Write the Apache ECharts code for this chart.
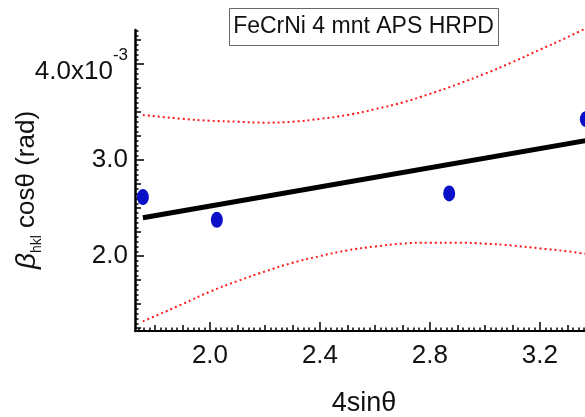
<!DOCTYPE html>
<html>
<head>
<meta charset="utf-8">
<script src="https://cdn.jsdelivr.net/npm/echarts@6/dist/echarts.min.js"></script>
<style>html,body{margin:0;padding:0;background:#fff;}#c{width:585px;height:417px;}</style>
</head>
<body>
<div id="c"></div>
<script>
// Data (y values in units of 1e-3 rad)
const pointsX = [1.756, 2.025, 2.870, 3.367];
const pointsY = [2.615, 2.378, 2.653, 3.427];
const fitX = [1.756, 3.40];
const fitY = [2.40, 3.22];
const bandX = [1.756, 1.9, 2.0, 2.1, 2.2, 2.3, 2.4, 2.5, 2.6, 2.7, 2.8, 2.9, 3.0, 3.1, 3.2, 3.3, 3.4];
const upperY = [3.47, 3.43, 3.41, 3.40, 3.39, 3.40, 3.43, 3.47, 3.53, 3.60, 3.69, 3.79, 3.90, 4.02, 4.15, 4.28, 4.42];
const lowerY = [1.32, 1.50, 1.63, 1.74, 1.84, 1.93, 2.00, 2.06, 2.10, 2.13, 2.14, 2.14, 2.13, 2.11, 2.08, 2.05, 2.01];
const xTickLabels = [2.0, 2.4, 2.8, 3.2];
const yTickLabels = [2.0, 3.0, 4.0];
const titleText = 'FeCrNi 4 mnt APS HRPD';
const xTitle = '4sinθ';

const xMin = 1.7273, xMax = 3.364, yMin = 1.22, yMax = 4.355;
function steps(a, b, s) { const r = []; for (let v = a; v <= b + 1e-9; v += s) r.push(Math.round(v * 1000) / 1000); return r; }
const xMinor = steps(1.74, 3.36, 0.02).filter(v => v >= xMin && v <= xMax);
const xMed = steps(1.8, 3.3, 0.1);
const yMinor = steps(1.25, 4.35, 0.05);
const yMed = steps(1.25, 4.35, 0.25);

const NARROW = '"Liberation Sans Narrow","Arial Narrow","Liberation Sans",sans-serif';
const SANS = '"Liberation Sans",Arial,sans-serif';

function xAx(ticks, len, showLabel) {
  return {
    type: 'value', min: xMin, max: xMax, gridIndex: 0, position: 'bottom',
    axisLine: { show: showLabel, onZero: false, lineStyle: { color: '#000', width: 2 } },
    axisTick: { show: true, inside: true, length: len, customValues: ticks, lineStyle: { color: '#000', width: 1.5 } },
    axisLabel: showLabel ? { show: true, customValues: xTickLabels, margin: 12, fontSize: 26, fontFamily: NARROW, color: '#111', formatter: v => v.toFixed(1) } : { show: false },
    splitLine: { show: false }
  };
}
function yAx(ticks, len, showLabel) {
  return {
    type: 'value', min: yMin, max: yMax, gridIndex: 0, position: 'left',
    axisLine: { show: showLabel, onZero: false, lineStyle: { color: '#000', width: 2.5 } },
    axisTick: { show: true, inside: true, length: len, customValues: ticks, lineStyle: { color: '#000', width: 1.5 } },
    axisLabel: showLabel ? {
      show: true, customValues: yTickLabels, margin: 7, fontSize: 26, fontFamily: NARROW, color: '#111',
      formatter: v => Math.abs(v - 4) < 1e-6 ? '{b|4.0x10}{s|-3}' : '{c|' + v.toFixed(1) + '}',
      rich: {
        b: { fontSize: 26, fontFamily: NARROW, color: '#111', verticalAlign: 'bottom', lineHeight: 42 },
        s: { fontSize: 17, fontFamily: NARROW, color: '#111', verticalAlign: 'top', lineHeight: 42, padding: [4, 0, 0, 0] },
        c: { fontSize: 26, fontFamily: NARROW, color: '#111' }
      }
    } : { show: false },
    splitLine: { show: false }
  };
}

const chart = echarts.init(document.getElementById('c'), null, { renderer: 'canvas' });
chart.setOption({
  animation: false,
  backgroundColor: '#fff',
  grid: { left: 135, top: 30, right: 0, height: 301, containLabel: false },
  xAxis: [xAx(xTickLabels, 9, true), xAx(xMed, 6, false), xAx(xMinor, 3.5, false)],
  yAxis: [yAx(yTickLabels, 9, true), yAx(yMed, 6, false), yAx(yMinor, 3.5, false)],
  graphic: [
    { type: 'rect', left: 229, top: 8, shape: { width: 269, height: 37 }, style: { fill: '#fff', stroke: '#666', lineWidth: 1 }, z: 10 },
    { type: 'text', x: 363.5, y: 27, style: { text: titleText, font: '23px ' + SANS, fill: '#111', align: 'center', verticalAlign: 'middle' }, z: 11 },
    { type: 'text', x: 364, y: 404, style: { text: xTitle, font: '27px ' + NARROW, fill: '#111', align: 'center', verticalAlign: 'middle' } },
    { type: 'text', x: 27, y: 190, rotation: Math.PI / 2,
      style: {
        text: '{b|β}{h|hkl}{c| cosθ (rad)}', align: 'center', verticalAlign: 'middle',
        rich: {
          b: { font: 'italic 28px ' + SANS, fill: '#111', verticalAlign: 'middle', lineHeight: 34 },
          h: { font: '14px ' + SANS, fill: '#111', verticalAlign: 'bottom', lineHeight: 34 },
          c: { font: '26px ' + SANS, fill: '#111', verticalAlign: 'middle', lineHeight: 34 }
        }
      } }
  ],
  series: [
    { type: 'line', xAxisIndex: 0, yAxisIndex: 0, data: bandX.map((x, i) => [x, upperY[i]]), smooth: true, symbol: 'none',
      lineStyle: { color: '#ff1a1a', width: 2, type: [2, 3] }, z: 2 },
    { type: 'line', xAxisIndex: 0, yAxisIndex: 0, data: bandX.map((x, i) => [x, lowerY[i]]), smooth: true, symbol: 'none',
      lineStyle: { color: '#ff1a1a', width: 2, type: [2, 3] }, z: 2 },
    { type: 'line', xAxisIndex: 0, yAxisIndex: 0, data: fitX.map((x, i) => [x, fitY[i]]), symbol: 'none',
      lineStyle: { color: '#000', width: 5 }, z: 3 },
    { type: 'scatter', xAxisIndex: 0, yAxisIndex: 0, clip: false, data: pointsX.map((x, i) => [x, pointsY[i]]), symbol: 'circle', symbolSize: [12, 16],
      itemStyle: { color: '#0a10c8', opacity: 1 }, z: 4 }
  ]
});
</script>
</body>
</html>
